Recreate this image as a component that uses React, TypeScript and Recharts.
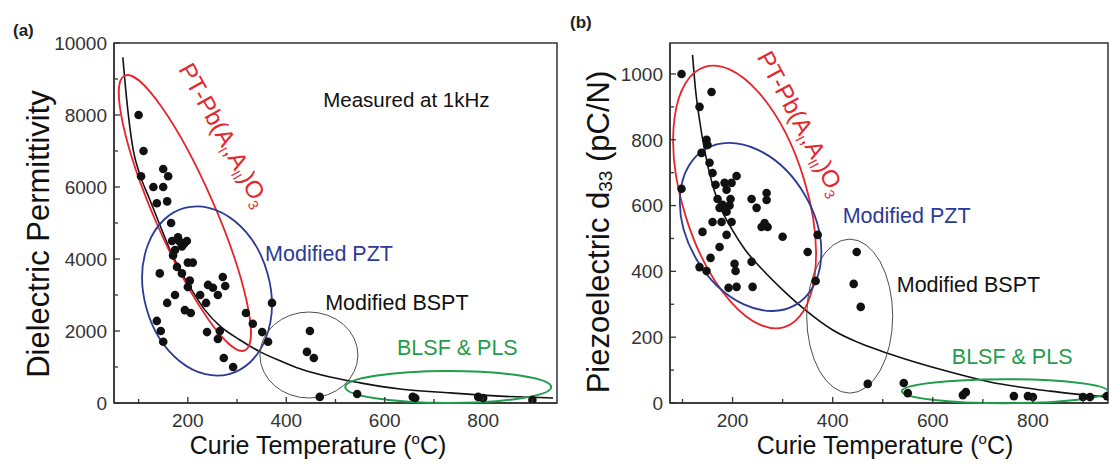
import React from "react";
import {
  ComposedChart, Scatter, Line, XAxis, YAxis, ReferenceDot, ReferenceArea, Label,
} from "recharts";

// (a) dielectric permittivity vs Curie temperature
const tcDotsA = [100, 110, 105, 150, 160, 130, 150, 137, 158, 166, 168, 180, 198, 188, 174, 170, 192, 200, 210, 143,
  178, 188, 204, 241, 251, 271, 276, 174, 158, 225, 261, 237, 194, 206, 137, 145, 150, 239, 265, 261,
  318, 371, 332, 351, 363, 273, 292, 448, 442, 456, 468, 544, 657, 662, 790, 800, 900, 200, 184];
const permDotsA = [8000, 7000, 6300, 6500, 6300, 6000, 6000, 5550, 5600, 5000, 4500, 4600, 4500, 4350, 4250, 4100, 4420, 3900, 3900, 3600,
  3780, 3600, 3400, 3280, 3200, 3500, 3250, 3000, 2780, 3000, 3000, 2780, 2580, 2500, 2280, 2000, 1700, 1970, 2000, 1780,
  2500, 2780, 2200, 1970, 1700, 1250, 1000, 2000, 1420, 1250, 170, 250, 170, 140, 170, 140, 80, 3220, 4470];
const tcFitA = [68, 76, 89, 103, 123, 143, 164, 184, 208, 235, 265, 306, 347, 393, 428, 489, 550, 631, 733, 834, 942];
const permFitA = [9600, 8400, 7030, 6330, 5640, 4950, 4250, 3700, 3140, 2580, 2140, 1750, 1420, 1140, 950, 720, 560, 390, 280, 190, 140];

// (b) piezoelectric d33 vs Curie temperature
const tcDotsB = [98, 158, 134, 148, 150, 138, 154, 160, 208, 166, 184, 198, 188, 98, 170, 196, 238, 268, 268, 248,
  174, 188, 180, 194, 160, 178, 198, 264, 270, 258, 140, 188, 300, 370, 174, 350, 156, 238, 204, 134,
  148, 206, 366, 192, 208, 240, 448, 442, 456, 470, 542, 550, 660, 666, 762, 790, 800, 900, 914, 948];
const d33DotsB = [1000, 945, 900, 800, 784, 760, 730, 699, 690, 663, 669, 669, 648, 651, 620, 620, 620, 638, 617, 593,
  593, 581, 602, 600, 550, 550, 550, 547, 535, 535, 520, 511, 505, 511, 474, 459, 441, 429, 423, 413,
  401, 401, 371, 350, 353, 353, 459, 362, 292, 58, 61, 30, 24, 33, 21, 21, 18, 18, 18, 21];
const tcFitB = [120, 126, 134, 144, 160, 178, 198, 224, 260, 300, 350, 400, 454, 514, 620, 714, 834, 948];
const d33FitB = [1058, 952, 860, 769, 663, 587, 530, 468, 405, 344, 277, 222, 182, 149, 100, 64, 36, 18];

const tempTicks = [100, 200, 300, 400, 500, 600, 700, 800, 900];
const tempLabels = [200, 400, 600, 800];
const permTicks = [0, 1000, 2000, 3000, 4000, 5000, 6000, 7000, 8000, 9000, 10000];
const permLabels = [0, 2000, 4000, 6000, 8000, 10000];
const d33Ticks = [0, 100, 200, 300, 400, 500, 600, 700, 800, 900, 1000];
const d33Labels = [0, 200, 400, 600, 800, 1000];

const zip = (ts: number[], vs: number[]) => ts.map((t, i) => ({ t, v: vs[i] }));

const FONT = "'Liberation Sans', Arial, Helvetica, sans-serif";
const AXIS = "#333";
const RED = "#e6262c";
const BLUE = "#2c3a96";
const GREEN = "#1f9d4c";
const GREY = "#4d4d4d";

const xTick = (labels: number[]) => (p: any) => {
  const v = p.payload.value;
  const axisY = p.y - 10;
  const major = labels.includes(v);
  return (
    <g>
      <line x1={p.x} x2={p.x} y1={axisY} y2={axisY - (major ? 6 : 4)} stroke={AXIS} strokeWidth={1.3} />
      {major && (
        <text x={p.x} y={p.y} dy="0.72em" textAnchor="middle" fontSize={19} fill="#333" fontFamily={FONT}>{v}</text>
      )}
    </g>
  );
};

const yTick = (labels: number[]) => (p: any) => {
  const v = p.payload.value;
  const axisX = p.x + 7;
  const major = labels.includes(v);
  return (
    <g>
      <line x1={axisX} x2={axisX + (major ? 6 : 4)} y1={p.y} y2={p.y} stroke={AXIS} strokeWidth={1.3} />
      {major && (
        <text x={p.x} y={p.y} dy="0.36em" textAnchor="end" fontSize={19} fill="#333" fontFamily={FONT}>{v}</text>
      )}
    </g>
  );
};

const dot = (p: any) => <circle cx={p.cx} cy={p.cy} r={4.3} fill="#111" />;

const ellipse = (rx: number, ry: number, rot: number, color: string, w: number) => (p: any) => (
  <ellipse cx={p.cx} cy={p.cy} rx={rx} ry={ry} transform={`rotate(${rot} ${p.cx} ${p.cy})`}
    fill="none" stroke={color} strokeWidth={w} />
);

const note = (text: string, color: string, size: number) => (p: any) => (
  <text x={p.cx} y={p.cy} dominantBaseline="central" fontSize={size} fill={color} fontFamily={FONT}>{text}</text>
);

const formula = (rot: number) => (p: any) => (
  <text x={p.cx} y={p.cy} transform={`rotate(${rot} ${p.cx} ${p.cy})`} fontSize={24} fill={RED} fontFamily={FONT}>
    PT-Pb(A<tspan dy={5} fontSize={14}>I</tspan><tspan dy={-5}>,A</tspan>
    <tspan dy={5} fontSize={14}>II</tspan><tspan dy={-5}>)O</tspan><tspan dy={5} fontSize={14}>3</tspan>
  </text>
);

const xTitle = (cx: number) => () => (
  <text x={cx} y={454} textAnchor="middle" fontSize={25} fill="#111" fontFamily={FONT}>
    Curie Temperature (<tspan dy={-10} fontSize={15}>o</tspan><tspan dy={10}>C)</tspan>
  </text>
);

const letter = (s: string, x: number, y: number) => () => (
  <text x={x} y={y} fontSize={17} fontWeight="bold" fill="#222" fontFamily={FONT}>{s}</text>
);

const titleA = () => (
  <text x={38} y={234} transform="rotate(-90 38 234)" textAnchor="middle" dominantBaseline="central"
    fontSize={31} fill="#111" fontFamily={FONT}>Dielectric Permittivity</text>
);

const titleB = () => (
  <text x={38} y={232} transform="rotate(-90 38 232)" textAnchor="middle" dominantBaseline="central"
    fontSize={31} fill="#111" fontFamily={FONT}>
    Piezoelectric d<tspan dy={7} fontSize={19}>33</tspan><tspan dy={-7}> (pC/N)</tspan>
  </text>
);

function Panel(props: any) {
  const { left, width, margin, xDomain, yDomain, yTicks, yLabels, dots, fit, ellipses, notes, form, yTitle, xTitleX, tag } = props;
  return (
    <div style={{ position: "absolute", left, top: 0 }}>
      <ComposedChart width={width} height={470} margin={margin}>
        <XAxis type="number" dataKey="t" domain={xDomain} allowDataOverflow ticks={tempTicks} interval={0}
          tickSize={0} tickMargin={10} tickLine={false} tick={xTick(tempLabels)} height={30}
          axisLine={{ stroke: AXIS, strokeWidth: 1.5 }}>
          <Label content={xTitle(xTitleX)} />
        </XAxis>
        <YAxis type="number" dataKey="v" domain={yDomain} allowDataOverflow ticks={yTicks} interval={0}
          tickSize={0} tickMargin={7} tickLine={false} tick={yTick(yLabels)} width={60}
          axisLine={{ stroke: AXIS, strokeWidth: 1.5 }}>
          <Label content={yTitle} />
          <Label content={tag} />
        </YAxis>
        <ReferenceArea x1={xDomain[0]} x2={xDomain[1]} y1={yDomain[0]} y2={yDomain[1]}
          fill="none" stroke={AXIS} strokeWidth={1.5} />
        {ellipses.map((e: any, i: number) => (
          <ReferenceDot key={"e" + i} x={e.t} y={e.v} r={0} shape={ellipse(e.rx, e.ry, e.rot, e.color, e.w)} />
        ))}
        <Line data={fit} dataKey="v" type="monotone" stroke="#111" strokeWidth={1.6} dot={false}
          activeDot={false} isAnimationActive={false} />
        <Scatter data={dots} shape={dot} isAnimationActive={false} />
        {notes.map((n: any, i: number) => (
          <ReferenceDot key={"n" + i} x={n.t} y={n.v} r={0} shape={note(n.text, n.color, n.size)} />
        ))}
        <ReferenceDot x={form.t} y={form.v} r={0} shape={formula(form.rot)} />
      </ComposedChart>
    </div>
  );
}

const ellipsesA = [
  { t: 194, v: 5278, rx: 30, ry: 150, rot: -23.6, color: RED, w: 1.8 },
  { t: 239, v: 3111, rx: 63, ry: 86, rot: -15, color: BLUE, w: 1.8 },
  { t: 446, v: 1333, rx: 49, ry: 43, rot: 0, color: GREY, w: 1 },
  { t: 729, v: 444, rx: 103, ry: 16, rot: 0, color: GREEN, w: 2 },
];
const notesA = [
  { t: 475, v: 8417, text: "Measured at 1kHz", color: "#111", size: 20.5 },
  { t: 357, v: 4139, text: "Modified PZT", color: BLUE, size: 21.5 },
  { t: 479, v: 2778, text: "Modified BSPT", color: "#111", size: 21.5 },
  { t: 625, v: 1528, text: "BLSF & PLS", color: GREEN, size: 21.5 },
];
const ellipsesB = [
  { t: 224, v: 626, rx: 62, ry: 136, rot: -17, color: RED, w: 1.8 },
  { t: 236, v: 535, rx: 63, ry: 90, rot: -30, color: BLUE, w: 1.8 },
  { t: 434, v: 264, rx: 43, ry: 77, rot: 0, color: GREY, w: 1 },
  { t: 744, v: 36, rx: 103, ry: 12, rot: 0, color: GREEN, w: 2 },
];
const notesB = [
  { t: 420, v: 568, text: "Modified PZT", color: BLUE, size: 21.5 },
  { t: 528, v: 359, text: "Modified BSPT", color: "#111", size: 21.5 },
  { t: 638, v: 140, text: "BLSF & PLS", color: GREEN, size: 21.5 },
];

export default function App() {
  return (
    <div style={{ position: "absolute", left: 0, top: 0, width: 1110, height: 470, background: "#fff" }}>
      <Panel left={0} width={570} margin={{ top: 43, right: 13, bottom: 37, left: 54 }}
        xDomain={[50, 950]} yDomain={[0, 10000]} yTicks={permTicks} yLabels={permLabels}
        dots={zip(tcDotsA, permDotsA)} fit={zip(tcFitA, permFitA)}
        ellipses={ellipsesA} notes={notesA} form={{ t: 180, v: 9278, rot: 61 }}
        yTitle={titleA} xTitleX={318} tag={letter("(a)", 13, 36)} />
      <Panel left={560} width={550} margin={{ top: 43, right: 2, bottom: 37, left: 50 }}
        xDomain={[75, 950]} yDomain={[0, 1094]} yTicks={d33Ticks} yLabels={d33Labels}
        dots={zip(tcDotsB, d33DotsB)} fit={zip(tcFitB, d33FitB)}
        ellipses={ellipsesB} notes={notesB} form={{ t: 248, v: 1052, rot: 62 }}
        yTitle={titleB} xTitleX={325} tag={letter("(b)", 10, 28)} />
    </div>
  );
}
